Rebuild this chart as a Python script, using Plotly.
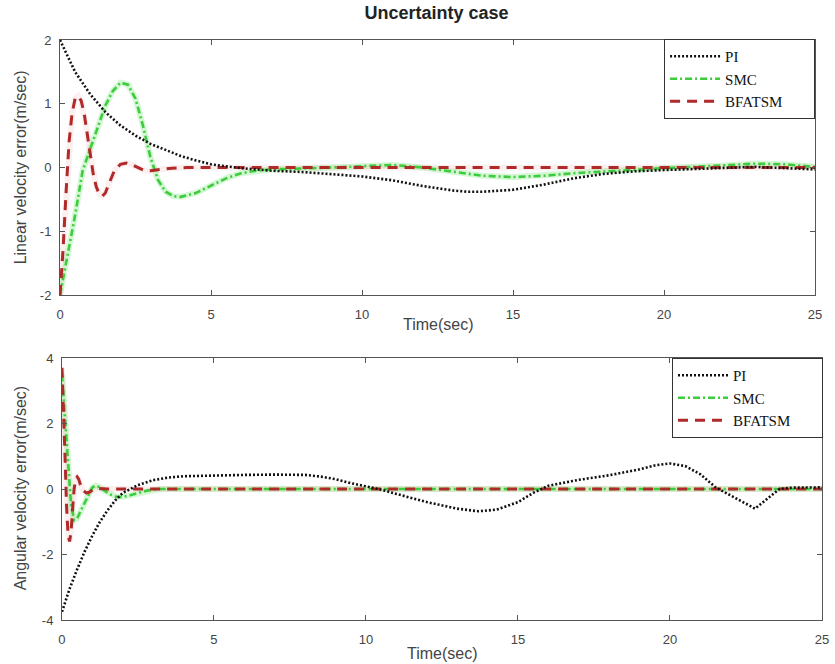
import plotly.graph_objects as go

# ---------------- data ----------------
series_names = ["PI", "SMC", "BFATSM"]
x_ticks = [0, 5, 10, 15, 20, 25]
x_tick_text = ["0", "5", "10", "15", "20", "25"]
y_ticks_lin = [-2, -1, 0, 1, 2]
y_tick_text_lin = ["-2", "-1", "0", "1", "2"]
y_ticks_ang = [-4, -2, 0, 2, 4]
y_tick_text_ang = ["-4", "-2", "0", "2", "4"]

# Linear velocity error
t_pi_lin = [0, 0.5, 1, 1.5, 2, 2.5, 3, 3.5, 4, 4.5, 5, 6, 7, 8, 9, 10, 11, 12, 13, 13.5,
            14, 15, 16, 17, 18, 19, 20, 21, 22, 23, 24, 25]
pi_lin = [2.0, 1.5, 1.15, 0.87, 0.66, 0.5, 0.37, 0.27, 0.18, 0.11, 0.05, -0.01, -0.05, -0.07,
          -0.1, -0.14, -0.2, -0.29, -0.36, -0.38, -0.38, -0.35, -0.27, -0.17, -0.1, -0.06,
          -0.04, -0.02, 0.0, 0.01, -0.01, -0.03]

t_smc_lin = [0, 0.25, 0.5, 0.75, 1, 1.25, 1.5, 1.75, 2, 2.25, 2.5, 2.75, 3, 3.25, 3.5, 3.75,
             4, 4.5, 5, 5.5, 6, 6.5, 7, 8, 9, 10, 11, 12, 13, 14, 15, 16, 17, 18, 19, 20,
             21, 22, 23, 24, 25]
smc_lin = [-2.0, -1.4, -0.75, -0.05, 0.3, 0.65, 0.97, 1.2, 1.33, 1.3, 1.08, 0.65, 0.15, -0.2,
           -0.38, -0.45, -0.46, -0.4, -0.28, -0.17, -0.09, -0.05, -0.03, -0.02, 0.0, 0.02,
           0.04, 0.0, -0.07, -0.13, -0.15, -0.13, -0.09, -0.06, -0.03, -0.01, 0.01, 0.03,
           0.06, 0.05, 0.01]

t_bf_lin = [0, 0.1, 0.2, 0.3, 0.4, 0.5, 0.6, 0.7, 0.8, 0.9, 1.0, 1.1, 1.2, 1.3, 1.4, 1.5,
            1.6, 1.8, 2.0, 2.2, 2.4, 2.6, 2.8, 3.0, 3.3, 3.7, 4.2, 5, 25]
bf_lin = [-2.0, -1.3, -0.4, 0.4, 0.85, 1.08, 1.12, 1.05, 0.85, 0.55, 0.2, -0.1, -0.3, -0.42,
          -0.45, -0.4, -0.28, -0.05, 0.05, 0.07, 0.04, -0.01, -0.05, -0.05, -0.03, -0.01,
          0.0, 0.0, 0.0]

# Angular velocity error
t_pi_ang = [0, 0.25, 0.5, 0.75, 1, 1.25, 1.5, 1.75, 2, 2.5, 3, 3.5, 4, 5, 6, 7, 8, 8.5, 9,
            9.5, 10, 10.5, 11, 12, 13, 13.7, 14.3, 15, 15.5, 16, 17, 18, 19, 19.5, 20, 20.5,
            21, 21.5, 22, 22.4, 22.8, 23.2, 23.6, 24, 25]
pi_ang = [-3.75, -3.05, -2.45, -1.9, -1.42, -1.0, -0.65, -0.35, -0.12, 0.12, 0.27, 0.35,
          0.39, 0.42, 0.43, 0.44, 0.43, 0.38, 0.3, 0.18, 0.08, -0.02, -0.15, -0.4, -0.6,
          -0.68, -0.63, -0.4, -0.12, 0.1, 0.28, 0.42, 0.6, 0.72, 0.78, 0.7, 0.45, 0.05,
          -0.2, -0.4, -0.6, -0.3, 0.0, 0.04, 0.05]

t_smc_ang = [0, 0.1, 0.2, 0.3, 0.4, 0.5, 0.6, 0.7, 0.8, 0.9, 1.0, 1.1, 1.2, 1.4, 1.6, 1.8,
             2.0, 2.2, 2.5, 2.8, 3.2, 4, 25]
smc_ang = [3.5, 2.1, 0.6, -0.5, -0.95, -0.9, -0.7, -0.5, -0.3, -0.1, 0.05, 0.1, 0.07, -0.05,
           -0.17, -0.24, -0.24, -0.2, -0.12, -0.05, 0.0, 0.0, 0.0]

t_bf_ang = [0, 0.05, 0.1, 0.15, 0.2, 0.25, 0.3, 0.35, 0.4, 0.45, 0.5, 0.55, 0.6, 0.7, 0.8,
            0.9, 1.0, 1.2, 1.5, 2, 25]
bf_ang = [3.7, 2.5, 1.0, -0.5, -1.4, -1.6, -1.3, -0.6, 0.0, 0.3, 0.37, 0.3, 0.15, -0.05,
          -0.12, -0.1, -0.03, 0.02, 0.0, 0.0, 0.0]

# ---------------- styles ----------------
W, H = 835, 664
ML, MR, MT, MB = 60, 6, 40, 44
PW, PH = W - ML - MR, H - MT - MB


def px_x(p):
    return (p - ML) / PW


def px_y(p):
    return (H - MB - p) / PH


C_PI, C_SMC, C_BF = "#111111", "#3ccc3c", "#b02a2a"
styles = {
    "PI": dict(color=C_PI, width=2.6, dash="2px,2px"),
    "SMC": dict(color=C_SMC, width=2.6, dash="7px,3px,2px,3px"),
    "BFATSM": dict(color=C_BF, width=3, dash="10px,7px"),
}
# legend text (trailing no-break spaces only widen the box like the original)
legend_text = {"PI": "PI", "SMC": "SMC", "BFATSM": "BFATSM" + "\u00a0" * 7}

fig = go.Figure()

panels = [
    ("x", "y", "legend", {"PI": (t_pi_lin, pi_lin), "SMC": (t_smc_lin, smc_lin), "BFATSM": (t_bf_lin, bf_lin)}),
    ("x2", "y2", "legend2", {"PI": (t_pi_ang, pi_ang), "SMC": (t_smc_ang, smc_ang), "BFATSM": (t_bf_ang, bf_ang)}),
]

for xa, ya, lg, data in panels:
    # faint glow behind the green and red lines
    for name, rgba in (("SMC", "rgba(60,220,60,0.22)"), ("BFATSM", "rgba(230,120,120,0.12)")):
        tx, vy = data[name]
        fig.add_trace(go.Scatter(x=tx, y=vy, mode="lines", xaxis=xa, yaxis=ya,
                                 line=dict(color=rgba, width=6), showlegend=False,
                                 hoverinfo="skip"))
    for rank, name in ((2, "SMC"), (3, "BFATSM"), (1, "PI")):
        tx, vy = data[name]
        fig.add_trace(go.Scatter(x=tx, y=vy, mode="lines", name=legend_text[name],
                                 xaxis=xa, yaxis=ya, line=styles[name], legend=lg,
                                 legendrank=rank))

axis_common = dict(
    showline=True, linecolor="#555555", linewidth=1, mirror="ticks",
    ticks="inside", ticklen=5, tickcolor="#555555", showgrid=False, zeroline=False,
    tickfont=dict(family="Arial, Liberation Sans, sans-serif", size=13, color="#444444"),
)

leg_font = dict(family="Liberation Serif, Times New Roman, serif", size=15, color="#111111")

fig.update_layout(
    width=W, height=H,
    margin=dict(l=ML, r=MR, t=MT, b=MB),
    paper_bgcolor="white", plot_bgcolor="white",
    xaxis=dict(domain=[0, px_x(822)], range=[0, 25], tickvals=x_ticks, ticktext=x_tick_text,
               anchor="y", ticklabelstandoff=7, **axis_common),
    yaxis=dict(domain=[px_y(295), 1], range=[-2, 2], tickvals=y_ticks_lin,
               ticktext=y_tick_text_lin, anchor="x", ticklabelstandoff=5, **axis_common),
    xaxis2=dict(domain=[px_x(62), 1], range=[0, 25], tickvals=x_ticks, ticktext=x_tick_text,
                anchor="y2", ticklabelstandoff=7, **axis_common),
    yaxis2=dict(domain=[0, px_y(358)], range=[-4, 4], tickvals=y_ticks_ang,
                ticktext=y_tick_text_ang, anchor="x2", ticklabelstandoff=5, **axis_common),
    title=dict(text="<b>Uncertainty case</b>", x=px_x(440), xref="paper", xanchor="center",
               y=1 - 13 / H, yref="container", yanchor="middle",
               font=dict(family="Arial, Liberation Sans, sans-serif", size=18, color="#222222")),
    legend=dict(x=px_x(822), y=px_y(39), xanchor="right", yanchor="top",
                bgcolor="white", bordercolor="#333333", borderwidth=1,
                font=leg_font, tracegroupgap=0, itemwidth=50),
    legend2=dict(x=px_x(830), y=px_y(358), xanchor="right", yanchor="top",
                 bgcolor="white", bordercolor="#333333", borderwidth=1,
                 font=leg_font, tracegroupgap=0, itemwidth=50),
    showlegend=True,
)

lab_font = dict(family="Arial, Liberation Sans, sans-serif", size=16, color="#444444")
annots = [
    dict(text="Time(sec)", x=px_x(442), y=px_y(324), textangle=0),
    dict(text="Time(sec)", x=px_x(446), y=px_y(653), textangle=0),
    dict(text="Linear velocity error(m/sec)", x=px_x(20), y=px_y(167), textangle=-90),
    dict(text="Angular velocity error(m/sec)", x=px_x(20), y=px_y(488), textangle=-90),
]
for a in annots:
    fig.add_annotation(xref="paper", yref="paper", showarrow=False, xanchor="center",
                       yanchor="middle", font=lab_font, **a)

fig.write_html("out.html")
